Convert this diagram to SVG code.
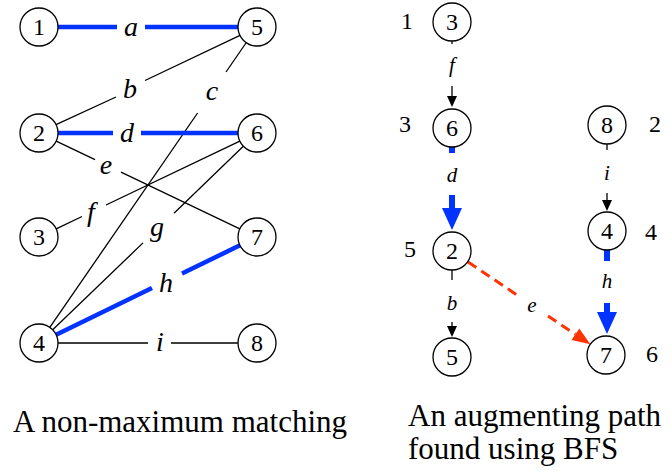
<svg xmlns="http://www.w3.org/2000/svg" width="671" height="471" viewBox="0 0 671 471">
<style>
.nd{fill:#fff;stroke:#000;stroke-width:1.3}
.num{font-size:24px;text-anchor:middle;fill:#000}
.lab{font-style:italic;font-size:28px;text-anchor:middle;fill:#000}
.rlab{font-style:italic;font-size:21px;text-anchor:middle;fill:#000}
.cap{font-size:31px;fill:#000}
.thin{stroke:#000;stroke-width:1.3;fill:none}
.blue{stroke:#0033FF;stroke-width:4.5;fill:none}
.bluer{stroke:#0033FF;stroke-width:6;fill:none}
.red{stroke:#FF3300;stroke-width:3;fill:none;stroke-dasharray:10,6}
</style>
<defs>
<marker id="ak" markerUnits="userSpaceOnUse" markerWidth="12" markerHeight="10" refX="0" refY="5" orient="auto" overflow="visible"><path d="M0,0 L11,5 L0,10 z" fill="#000"/></marker>
<marker id="ab" markerUnits="userSpaceOnUse" markerWidth="22" markerHeight="20" refX="0" refY="10" orient="auto" overflow="visible"><path d="M0,0 L22,10 L0,20 z" fill="#0033FF"/></marker>
<marker id="ar" markerUnits="userSpaceOnUse" markerWidth="18" markerHeight="14" refX="0" refY="7" orient="auto" overflow="visible"><path d="M0,0 L18,7 L0,14 z" fill="#FF3300"/></marker>
</defs>
<g font-family="Liberation Serif, DejaVu Serif, serif">
<g id="connectors">
  <g id="edge-a"><path class="blue" d="M58,27 H117 M145,27 H238"/><text class="lab" x="131" y="36">a</text></g>
  <g id="edge-b"><path class="thin" d="M56,124.7 L116,97 M145,80.5 L240,35.3"/><text class="lab" x="130" y="98">b</text></g>
  <g id="edge-c"><path class="thin" d="M246,43 L226,72 M197.6,113 L49.8,327.4"/><text class="lab" x="212" y="100">c</text></g>
  <g id="edge-d"><path class="blue" d="M58,133 H113 M141,133 H238"/><text class="lab" x="127" y="142">d</text></g>
  <g id="edge-e"><path class="thin" d="M56.2,141.2 L95,159.7 M121,172.2 L239.8,228.8"/><text class="lab" x="106" y="174">e</text></g>
  <g id="edge-f"><path class="thin" d="M56.2,228.8 L82,216.5 M106,205 L239.8,141.2"/><text class="lab" x="91" y="221">f</text></g>
  <g id="edge-g"><path class="thin" d="M243.3,146.2 L174,213.3 M143,242.9 L52.7,329.8"/><text class="lab" x="157" y="236">g</text></g>
  <g id="edge-h"><path class="blue" d="M56.1,334.7 L152,288 M182,273.5 L240,245.3"/><text class="lab" x="166" y="292">h</text></g>
  <g id="edge-i"><path class="thin" d="M58,343 H148 M171,343 H238"/><text class="lab" x="160" y="351">i</text></g>
  <g id="edge-rf"><path class="thin" d="M452,41 V44"/><path class="thin" d="M452,86 V96" marker-end="url(#ak)"/><text class="rlab" x="452" y="72">f</text></g>
  <g id="edge-rd"><path class="bluer" d="M452,147 V153"/><path class="bluer" d="M452,195 V208" marker-end="url(#ab)"/><text class="rlab" x="452" y="182">d</text></g>
  <g id="edge-ri"><path class="thin" d="M607,144 V150"/><path class="thin" d="M607,193 V200" marker-end="url(#ak)"/><text class="rlab" x="607" y="180">i</text></g>
  <g id="edge-rh"><path class="bluer" d="M607,250 V261"/><path class="bluer" d="M607,303 V312" marker-end="url(#ab)"/><text class="rlab" x="607" y="288">h</text></g>
  <g id="edge-rb"><path class="thin" d="M452,270 V280"/><path class="thin" d="M452,322 V326" marker-end="url(#ak)"/><text class="rlab" x="452" y="310">b</text></g>
  <g id="edge-re"><path class="red" d="M468,262 L520,297"/><path class="red" d="M548,316 L575.4,334.3" marker-end="url(#ar)"/><text class="rlab" x="532" y="312">e</text></g>
</g>

<g id="L1"><circle class="nd" cx="39" cy="27" r="19"/><text class="num" x="39" y="35">1</text></g>
<g id="L2"><circle class="nd" cx="39" cy="133" r="19"/><text class="num" x="39" y="141">2</text></g>
<g id="L3"><circle class="nd" cx="39" cy="237" r="19"/><text class="num" x="39" y="245">3</text></g>
<g id="L4"><circle class="nd" cx="39" cy="343" r="19"/><text class="num" x="39" y="351">4</text></g>
<g id="L5"><circle class="nd" cx="257" cy="27" r="19"/><text class="num" x="257" y="35">5</text></g>
<g id="L6"><circle class="nd" cx="257" cy="133" r="19"/><text class="num" x="257" y="141">6</text></g>
<g id="L7"><circle class="nd" cx="257" cy="237" r="19"/><text class="num" x="257" y="245">7</text></g>
<g id="L8"><circle class="nd" cx="257" cy="343" r="19"/><text class="num" x="257" y="351">8</text></g>

<g id="R3"><circle class="nd" cx="452" cy="22" r="19"/><text class="num" x="452" y="30">3</text><text class="num" x="407" y="29">1</text></g>
<g id="R6"><circle class="nd" cx="452" cy="128" r="19"/><text class="num" x="452" y="136">6</text><text class="num" x="405" y="132">3</text></g>
<g id="R8"><circle class="nd" cx="607" cy="125" r="19"/><text class="num" x="607" y="133">8</text><text class="num" x="655" y="132">2</text></g>
<g id="R2"><circle class="nd" cx="452" cy="251" r="19"/><text class="num" x="452" y="259">2</text><text class="num" x="410" y="257">5</text></g>
<g id="R4"><circle class="nd" cx="607" cy="231" r="19"/><text class="num" x="607" y="239">4</text><text class="num" x="651" y="240">4</text></g>
<g id="R5"><circle class="nd" cx="452" cy="357" r="19"/><text class="num" x="452" y="365">5</text></g>
<g id="R7"><circle class="nd" cx="606" cy="355" r="19"/><text class="num" x="606" y="363">7</text><text class="num" x="652" y="362">6</text></g>

<text class="cap" x="13" y="432">A non-maximum matching</text>
<text class="cap" x="408" y="426">An augmenting path</text>
<text class="cap" x="408" y="459">found using BFS</text>
</g>
</svg>
